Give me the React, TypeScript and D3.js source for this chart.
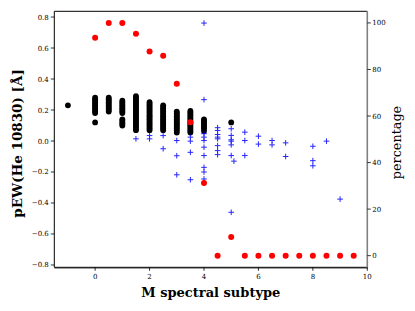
import React from "react";
import * as d3 from "d3";

const W = 415;
const H = 311;

// Black filled circles: pEW(He 10830) per subtype (left axis)
const blackX: number[] = [
  -1,
  0, 0, 0, 0, 0, 0, 0, 0, 0, 0, 0, 0,
  0.5, 0.5, 0.5, 0.5, 0.5, 0.5, 0.5, 0.5, 0.5, 0.5,
  1, 1, 1, 1, 1, 1, 1, 1, 1, 1, 1, 1, 1, 1,
  1.5, 1.5, 1.5, 1.5, 1.5, 1.5, 1.5, 1.5, 1.5, 1.5, 1.5, 1.5, 1.5, 1.5, 1.5, 1.5, 1.5, 1.5, 1.5, 1.5, 1.5, 1.5, 1.5,
  2, 2, 2, 2, 2, 2, 2, 2, 2, 2, 2, 2, 2, 2, 2, 2, 2, 2, 2,
  2.5, 2.5, 2.5, 2.5, 2.5, 2.5, 2.5, 2.5, 2.5, 2.5, 2.5, 2.5, 2.5, 2.5, 2.5, 2.5, 2.5,
  3, 3, 3, 3, 3, 3, 3, 3, 3, 3, 3, 3, 3, 3,
  3.5, 3.5, 3.5, 3.5, 3.5, 3.5, 3.5, 3.5, 3.5, 3.5, 3.5, 3.5, 3.5, 3.5, 3.5,
  4, 4, 4, 4, 4, 4, 4, 4,
  5,
];
const blackY: number[] = [
  0.23,
  0.28, 0.27, 0.26, 0.25, 0.24, 0.23, 0.22, 0.21, 0.2, 0.19, 0.18, 0.12,
  0.28, 0.27, 0.26, 0.25, 0.24, 0.23, 0.22, 0.21, 0.2, 0.19,
  0.26, 0.25, 0.24, 0.23, 0.22, 0.21, 0.2, 0.19, 0.18, 0.14, 0.13, 0.12, 0.11, 0.1,
  0.29, 0.28, 0.27, 0.26, 0.25, 0.24, 0.23, 0.22, 0.21, 0.2, 0.19, 0.18, 0.17, 0.16, 0.15, 0.14, 0.13, 0.12, 0.11, 0.1, 0.09, 0.08, 0.07,
  0.25, 0.24, 0.23, 0.22, 0.21, 0.2, 0.19, 0.18, 0.17, 0.16, 0.15, 0.14, 0.13, 0.12, 0.11, 0.1, 0.09, 0.08, 0.07,
  0.23, 0.22, 0.21, 0.2, 0.19, 0.18, 0.17, 0.16, 0.15, 0.14, 0.13, 0.12, 0.11, 0.1, 0.09, 0.08, 0.07,
  0.19, 0.18, 0.17, 0.16, 0.15, 0.14, 0.13, 0.12, 0.11, 0.1, 0.09, 0.08, 0.07, 0.055,
  0.195, 0.185, 0.175, 0.165, 0.155, 0.145, 0.135, 0.125, 0.115, 0.105, 0.095, 0.085, 0.075, 0.065, 0.055,
  0.14, 0.13, 0.12, 0.11, 0.1, 0.09, 0.08, 0.065,
  0.12,
];

// Blue crosses (left axis)
const blueX: number[] = [
  1.5,
  2, 2,
  2.5, 2.5,
  3, 3, 3,
  3.5, 3.5, 3.5, 3.5,
  4, 4, 4, 4, 4, 4, 4, 4, 4, 4,
  4.5, 4.5, 4.5, 4.5, 4.5, 4.5, 4.5, 4.5,
  5, 5, 5, 5, 5, 5, 5,
  5.1,
  5.5, 5.5, 5.5,
  6, 6,
  6.5, 6.5,
  7, 7,
  8, 8, 8,
  8.5,
  9,
];
const blueY: number[] = [
  0.014,
  0.035, 0.014,
  0.035, -0.05,
  0.003, -0.095, -0.218,
  0.025, -0.001, -0.073, -0.25,
  0.761, 0.267, 0.047, 0.025, 0.003, -0.04, -0.094, -0.17, -0.2, -0.245,
  0.086, 0.068, 0.042, 0.025, 0.014, -0.03, -0.062, -0.088,
  0.079, 0.036, 0.008, -0.001, -0.025, -0.094, -0.46,
  -0.13,
  0.057, 0.003, -0.094,
  0.031, -0.02,
  0.003, -0.025,
  -0.012, -0.1,
  -0.034, -0.127, -0.16,
  -0.001,
  -0.375,
];

// Red circles: percentage per subtype (right axis)
const redX: number[] = [0, 0.5, 1, 1.5, 2, 2.5, 3, 3.5, 4, 4.5, 5, 5.5, 6, 6.5, 7, 7.5, 8, 8.5, 9, 9.5];
const redY: number[] = [93.6, 100, 100, 95.4, 87.7, 85.9, 73.9, 57.3, 31.2, 0, 8.0, 0, 0, 0, 0, 0, 0, 0, 0, 0];

const xTicks: number[] = [0, 2, 4, 6, 8, 10];
const yTicks: number[] = [-0.8, -0.6, -0.4, -0.2, 0.0, 0.2, 0.4, 0.6, 0.8];
const y2Ticks: number[] = [0, 20, 40, 60, 80, 100];

const L = 54.3, R = 367.3, T = 11.3, B = 267.3;
const FONT = "'DejaVu Serif', 'Liberation Serif', serif";

export default function App() {
  const x = d3.scaleLinear().domain([-1.5, 10]).range([L, R]);
  const y = d3.scaleLinear().domain([-0.815, 0.837]).range([B, T]);
  const y2 = d3.scaleLinear().domain([-5, 105]).range([B, T]);
  const fmtY = (v: number) => (v < 0 ? "\u2212" : "") + Math.abs(v).toFixed(1);
  const cs = 2.8;

  return (
    <svg width={W} height={H} style={{ position: "absolute", left: 0, top: 0, background: "#fff" }}>
      <rect x={0} y={0} width={W} height={H} fill="#fff" />
      {/* black circles */}
      <g>
        {blackX.map((bx, i) => (
          <circle key={"b" + i} cx={x(bx)} cy={y(blackY[i])} r={2.9} fill="#000" />
        ))}
      </g>
      {/* blue crosses */}
      <g stroke="#0000ff" strokeWidth={1} opacity={0.85}>
        {blueX.map((bx, i) => {
          const cx = x(bx), cy = y(blueY[i]);
          return (
            <g key={"c" + i}>
              <line x1={cx - cs} x2={cx + cs} y1={cy} y2={cy} />
              <line x1={cx} x2={cx} y1={cy - cs} y2={cy + cs} />
            </g>
          );
        })}
      </g>
      {/* red circles */}
      <g>
        {redX.map((rx, i) => (
          <circle key={"r" + i} cx={x(rx)} cy={y2(redY[i])} r={3} fill="#ff0000" />
        ))}
      </g>
      {/* spines */}
      <line x1={L} x2={R} y1={T} y2={T} stroke="#000" strokeWidth={1} />
      <line x1={L} x2={L} y1={T} y2={B} stroke="#000" strokeWidth={1} />
      <line x1={L} x2={R} y1={B + 0.8} y2={B + 0.8} stroke="#808080" strokeWidth={1.2} />
      <line x1={L} x2={R} y1={B} y2={B} stroke="#000" strokeWidth={1} />
      <line x1={R} x2={R} y1={T} y2={B + 1.4} stroke="#808080" strokeWidth={1.6} />
      {/* x ticks */}
      {xTicks.map((t) => (
        <g key={"xt" + t}>
          <line x1={x(t)} x2={x(t)} y1={B} y2={B + 3.5} stroke="#000" strokeWidth={0.8} />
          <text x={x(t)} y={B + 11.5} fontSize={7} fontFamily={FONT} textAnchor="middle" fill="#000">
            {t}
          </text>
        </g>
      ))}
      {/* y ticks */}
      {yTicks.map((t) => (
        <g key={"yt" + t}>
          <line x1={L - 3.5} x2={L} y1={y(t)} y2={y(t)} stroke="#000" strokeWidth={0.8} />
          <text x={L - 5.5} y={y(t) + 2.5} fontSize={7} fontFamily={FONT} textAnchor="end" fill="#000">
            {fmtY(t)}
          </text>
        </g>
      ))}
      {/* y2 ticks */}
      {y2Ticks.map((t) => (
        <g key={"y2t" + t}>
          <line x1={R} x2={R + 3.5} y1={y2(t)} y2={y2(t)} stroke="#000" strokeWidth={0.8} />
          <text x={R + 5} y={y2(t) + 2.5} fontSize={7} fontFamily={FONT} textAnchor="start" fill="#000">
            {t}
          </text>
        </g>
      ))}
      {/* labels */}
      <text x={(L + R) / 2} y={297} fontSize={13} fontWeight="bold" fontFamily={FONT} textAnchor="middle" fill="#000">
        M spectral subtype
      </text>
      <text
        transform={`translate(21.5,143.5) rotate(-90)`}
        fontSize={13.5}
        fontWeight="bold"
        fontFamily={FONT}
        textAnchor="middle"
        fill="#000"
      >
        pEW(He 10830) [Å]
      </text>
      <text
        transform={`translate(401,142.5) rotate(-90)`}
        fontSize={12.8}
        fontFamily={FONT}
        textAnchor="middle"
        fill="#000"
      >
        percentage
      </text>
    </svg>
  );
}
